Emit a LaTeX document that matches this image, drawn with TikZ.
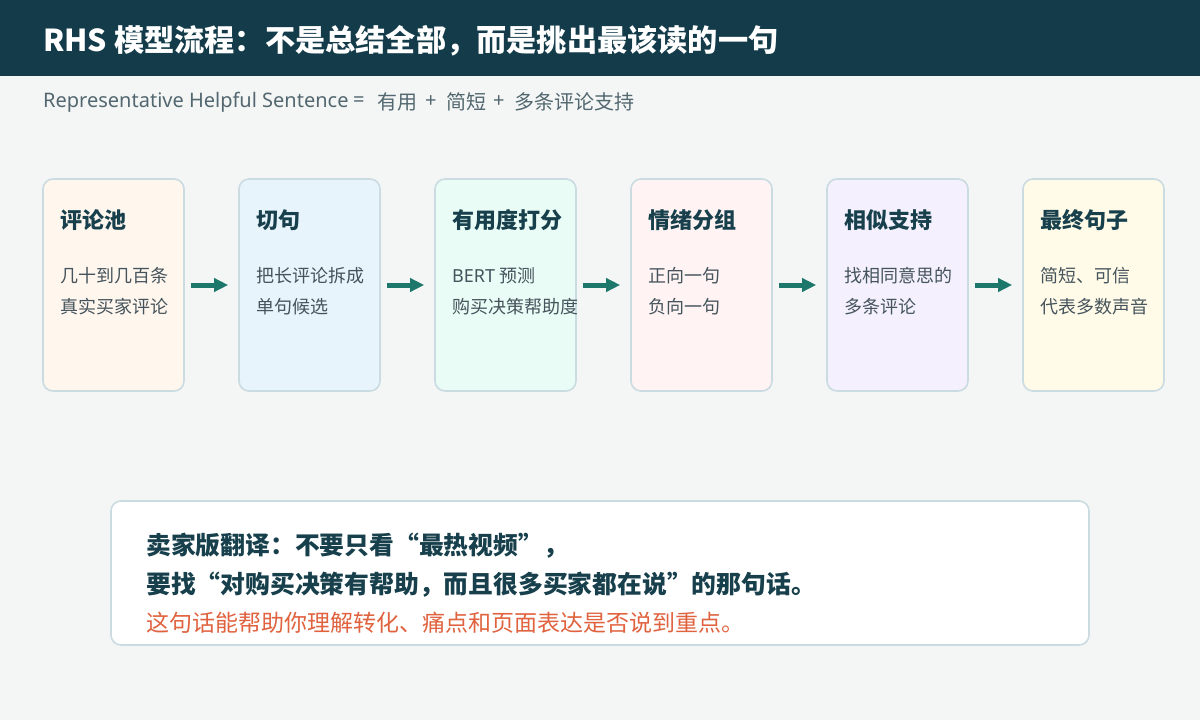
\documentclass[tikz,border=0pt]{standalone}
\usepackage{fontspec}
\setmainfont{Noto Sans CJK SC}
\newfontfamily\latinf{Noto Sans}
\usetikzlibrary{arrows.meta}
\definecolor{bgc}{HTML}{F4F6F5}
\definecolor{headc}{HTML}{133B4A}
\definecolor{titlec}{HTML}{17404C}
\definecolor{bodyc}{HTML}{45545C}
\definecolor{subc}{HTML}{52676F}
\definecolor{borderc}{HTML}{CADBE1}
\definecolor{arrc}{HTML}{1E776B}
\definecolor{redc}{HTML}{E0623E}
\definecolor{fa}{HTML}{FFF6EE}
\definecolor{fb}{HTML}{E8F4FC}
\definecolor{fc}{HTML}{EAFCF6}
\definecolor{fd}{HTML}{FFF3F3}
\definecolor{fe}{HTML}{F4F0FE}
\definecolor{ff}{HTML}{FFFBE8}
\tikzset{
  subtext/.style={anchor=west, inner sep=0pt, text=subc,
    font=\fontsize{20}{24}\selectfont},
  stagebox/.style={draw=borderc, line width=1.6pt, rounded corners=10pt,
    minimum width=141pt, minimum height=212pt, inner sep=0pt},
  stagetitle/.style={anchor=west, inner sep=0pt, text=titlec,
    font=\fontsize{22}{26}\selectfont\bfseries},
  stagebody/.style={anchor=west, inner sep=0pt, text=bodyc,
    font=\fontsize{18}{21}\selectfont},
  flowarrow/.style={draw=arrc, line width=5pt,
    -{Triangle[length=14pt,width=13pt]}, shorten <=6pt, shorten >=10pt},
  notebox/.style={draw=borderc, line width=1.6pt, rounded corners=10pt, fill=white,
    minimum width=978pt, minimum height=144pt, inner sep=0pt},
  notebold/.style={anchor=west, inner sep=0pt, text=titlec,
    font=\fontsize{24.8}{28}\selectfont\bfseries},
  notered/.style={anchor=west, inner sep=0pt, text=redc,
    font=\fontsize{23}{27}\selectfont}
}
\begin{document}
\begin{tikzpicture}[x=1pt,y=-1pt]
\useasboundingbox (0,0) rectangle (1200,720);
\fill[bgc] (0,0) rectangle (1200,720);
\fill[headc] (0,0) rectangle (1200,76);
\node[anchor=west, inner sep=0pt, text=white, font=\fontsize{30.2}{34}\selectfont\bfseries] (title) at (43,41) {RHS 模型流程：不是总结全部，而是挑出最该读的一句};
\node[subtext] (s1) at (43,102) {\latinf Representative Helpful Sentence};
\node[subtext] (s2) at (353,102) {\latinf =};
\node[subtext] (s3) at (377,102) {有用};
\node[subtext] (s4) at (425,102) {\latinf +};
\node[subtext] (s5) at (446,102) {简短};
\node[subtext] (s6) at (493,102) {\latinf +};
\node[subtext] (s7) at (514,102) {多条评论支持};

\node[stagebox, fill=fa] (b1) at (113.5,285) {};
\node[stagebox, fill=fb] (b2) at (309.5,285) {};
\node[stagebox, fill=fc] (b3) at (505.5,285) {};
\node[stagebox, fill=fd] (b4) at (701.5,285) {};
\node[stagebox, fill=fe] (b5) at (897.5,285) {};
\node[stagebox, fill=ff] (b6) at (1093.5,285) {};

\node[stagetitle] (t1) at (60,220) {评论池};
\node[stagebody] (p1a) at (60,276) {几十到几百条};
\node[stagebody] (p1b) at (60,307) {真实买家评论};

\node[stagetitle] (t2) at (256,220) {切句};
\node[stagebody] (p2a) at (256,276) {把长评论拆成};
\node[stagebody] (p2b) at (256,307) {单句候选};

\node[stagetitle] (t3) at (452,220) {有用度打分};
\node[stagebody] (p3a) at (452,276) {{\latinf BERT} 预测};
\node[stagebody] (p3b) at (452,307) {购买决策帮助度};

\node[stagetitle] (t4) at (648,220) {情绪分组};
\node[stagebody] (p4a) at (648,276) {正向一句};
\node[stagebody] (p4b) at (648,307) {负向一句};

\node[stagetitle] (t5) at (844,220) {相似支持};
\node[stagebody] (p5a) at (844,276) {找相同意思的};
\node[stagebody] (p5b) at (844,307) {多条评论};

\node[stagetitle] (t6) at (1040,220) {最终句子};
\node[stagebody] (p6a) at (1040,276) {简短、可信};
\node[stagebody] (p6b) at (1040,307) {代表多数声音};

\draw[flowarrow] (b1.east) -- (b2.west);
\draw[flowarrow] (b2.east) -- (b3.west);
\draw[flowarrow] (b3.east) -- (b4.west);
\draw[flowarrow] (b4.east) -- (b5.west);
\draw[flowarrow] (b5.east) -- (b6.west);

\node[notebox] (note) at (600,573) {};
\node[notebold] (n1) at (146,546) {卖家版翻译：不要只看“最热视频”，};
\node[notebold] (n2) at (146,585) {要找“对购买决策有帮助，而且很多买家都在说”的那句话。};
\node[notered] (n3) at (146,623) {这句话能帮助你理解转化、痛点和页面表达是否说到重点。};
\end{tikzpicture}
\end{document}
